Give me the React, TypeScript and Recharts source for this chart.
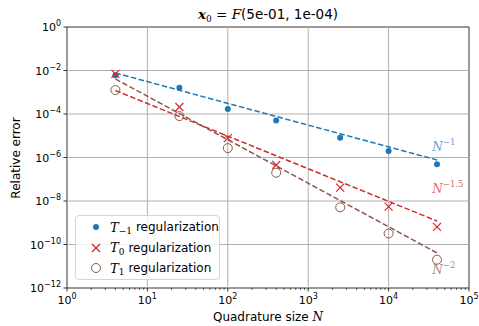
import React from 'react';
import { ComposedChart, Scatter, XAxis, YAxis, ReferenceLine, ReferenceArea, ReferenceDot } from 'recharts';

// quadrature sizes N
const sizes = [4, 25, 100, 400, 2500, 10000, 40000];

// relative errors per regularization
const errTm1 = [6.0e-3, 1.6e-3, 1.7e-4, 5.0e-5, 8.0e-6, 2.0e-6, 4.9e-7];
const errT0 = [7.0e-3, 2.1e-4, 7.8e-6, 4.5e-7, 4.1e-8, 5.5e-9, 6.5e-10];
const errT1 = [1.26e-3, 8.0e-5, 2.7e-6, 2.0e-7, 5.1e-9, 3.2e-10, 2.0e-11];

// fitted power-law lines, endpoints at N = 4 and N = 40000
const fitN = [4, 40000];
const fitTm1 = [7.7e-3, 7.7e-7];
const fitT0 = [1.2e-3, 1.2e-9];
const fitT1 = [4.1e-3, 4.1e-11];

const xMajor = [1, 10, 100, 1000, 10000, 100000];
const xMinor = [1, 10, 100, 1000, 10000].flatMap(d => [2, 3, 4, 5, 6, 7, 8, 9].map(m => m * d));
const yMajor = [1, 1e-2, 1e-4, 1e-6, 1e-8, 1e-10, 1e-12];

const BLUE = '#1f77b4';
const RED = '#d62728';
const BROWN = '#8c564b';
const FONT = '"DejaVu Sans", sans-serif';
const MATH = '"DejaVu Serif", serif';

const pts = (xs: number[], ys: number[]) => xs.map((x, i) => ({ x, y: ys[i] }));

const Dot = (p: any) => <circle cx={p.cx} cy={p.cy} r={3} fill={BLUE} />;
const Cross = (p: any) => (
  <g stroke={RED} strokeWidth={1.2}>
    <line x1={p.cx - 4} y1={p.cy - 4} x2={p.cx + 4} y2={p.cy + 4} />
    <line x1={p.cx - 4} y1={p.cy + 4} x2={p.cx + 4} y2={p.cy - 4} />
  </g>
);
const Ring = (p: any) => <circle cx={p.cx} cy={p.cy} r={4.5} fill="none" stroke={BROWN} strokeWidth={1} />;
const None = () => <g />;

const exponent = (v: number) => Math.round(Math.log10(v));
const fmtExp = (e: number) => (e < 0 ? '\u2212' + Math.abs(e) : String(e));

const XTick = (props: any) => {
  const { x, y, payload } = props;
  const v = payload.value;
  const e = exponent(v);
  const major = Math.abs(Math.log10(v) - e) < 1e-9;
  return (
    <g>
      <line x1={x} x2={x} y1={y} y2={y + (major ? 3.5 : 2)} stroke="#000" strokeWidth={major ? 0.8 : 0.6} />
      {major && (
        <text x={x} y={y + 16} textAnchor="middle" fontSize={11} fontFamily={FONT} fill="#000">
          10<tspan dy={-5} fontSize={8}>{fmtExp(e)}</tspan>
        </text>
      )}
    </g>
  );
};

const YTick = (props: any) => {
  const { x, y, payload } = props;
  const e = exponent(payload.value);
  return (
    <g>
      <line x1={x} x2={x - 3.5} y1={y} y2={y} stroke="#000" strokeWidth={0.8} />
      <text x={x - 6} y={y + 4} textAnchor="end" fontSize={11} fontFamily={FONT} fill="#000">
        10<tspan dy={-5} fontSize={8}>{fmtExp(e)}</tspan>
      </text>
    </g>
  );
};

const slopeLabel = (color: string, exp: string) => (p: any) => (
  <text x={p.cx} y={p.cy} fontFamily={MATH} fontStyle="italic" fontSize={12} fill={color} opacity={0.7}>
    N<tspan dy={-6} fontSize={8.5} fontStyle="normal">{exp}</tspan>
  </text>
);

const LegendRow = ({ marker, sub }: { marker: React.ReactNode; sub: string }) => (
  <div style={{ display: 'flex', alignItems: 'center', height: 20.5 }}>
    <svg width={16} height={12} style={{ marginLeft: 14, marginRight: 4 }}>{marker}</svg>
    <span style={{ fontFamily: MATH, fontStyle: 'italic', fontSize: 13 }}>T</span>
    <span style={{ fontFamily: MATH, fontSize: 9, position: 'relative', top: 4, marginRight: 4 }}>{sub}</span>
    <span>regularization</span>
  </div>
);

export default function App() {
  return (
    <div style={{ position: 'absolute', left: 0, top: 0, width: 479, height: 326, background: '#fff', fontFamily: FONT, fontSize: 12 }}>
      <div style={{ position: 'absolute', left: 67, width: 402, top: 6, textAlign: 'center', fontSize: 13.5 }}>
        <span style={{ fontFamily: MATH, fontStyle: 'italic', fontWeight: 'bold' }}>x</span>
        <span style={{ fontFamily: MATH, fontSize: 9, position: 'relative', top: 3 }}>0</span>
        <span style={{ fontFamily: MATH }}> = </span>
        <span style={{ fontFamily: MATH, fontStyle: 'italic' }}>F</span>
        <span>(5e-01, 1e-04)</span>
      </div>
      <div style={{ position: 'absolute', left: 67, width: 402, top: 310, textAlign: 'center', fontSize: 12 }}>
        Quadrature size <span style={{ fontFamily: MATH, fontStyle: 'italic' }}>N</span>
      </div>
      <div style={{ position: 'absolute', left: 16, top: 158, transform: 'translate(-50%, -50%) rotate(-90deg)', whiteSpace: 'nowrap', fontSize: 12 }}>
        Relative error
      </div>
      <ComposedChart width={479} height={326} margin={{ top: 27, right: 10, bottom: 0, left: 0 }}>
        <XAxis dataKey="x" type="number" scale="log" domain={[1, 100000]} ticks={[...xMajor, ...xMinor]}
          allowDataOverflow axisLine={false} tickLine={false} tickSize={0} tickMargin={0} height={38} tick={<XTick />} interval={0} />
        <YAxis dataKey="y" type="number" scale="log" domain={[1e-12, 1]} ticks={yMajor}
          allowDataOverflow axisLine={false} tickLine={false} tickSize={0} tickMargin={0} width={67} tick={<YTick />} interval={0} />
        {xMajor.slice(1, -1).map(v => (
          <ReferenceLine key={'gx' + v} x={v} stroke="#b0b0b0" strokeWidth={1} />
        ))}
        {yMajor.slice(1, -1).map(v => (
          <ReferenceLine key={'gy' + v} y={v} stroke="#b0b0b0" strokeWidth={1} />
        ))}
        <Scatter data={pts(fitN, fitTm1)} line={{ stroke: BLUE, strokeWidth: 1.5, strokeDasharray: '5.5 2.5' }} shape={None} isAnimationActive={false} />
        <Scatter data={pts(fitN, fitT0)} line={{ stroke: RED, strokeWidth: 1.5, strokeDasharray: '5.5 2.5' }} shape={None} isAnimationActive={false} />
        <Scatter data={pts(fitN, fitT1)} line={{ stroke: BROWN, strokeWidth: 1.5, strokeDasharray: '5.5 2.5' }} shape={None} isAnimationActive={false} />
        <Scatter data={pts(sizes, errTm1)} shape={Dot} isAnimationActive={false} />
        <Scatter data={pts(sizes, errT0)} shape={Cross} isAnimationActive={false} />
        <Scatter data={pts(sizes, errT1)} shape={Ring} isAnimationActive={false} />
        <ReferenceDot x={35000} y={2.0e-6} shape={slopeLabel(BLUE, '\u22121')} />
        <ReferenceDot x={35000} y={2.3e-8} shape={slopeLabel(RED, '\u22121.5')} />
        <ReferenceDot x={35000} y={4.3e-12} shape={slopeLabel(BROWN, '\u22122')} />
        <ReferenceArea x1={1} x2={100000} y1={1e-12} y2={1} fill="none" stroke="#000" strokeWidth={0.8} />
      </ComposedChart>
      <div style={{ position: 'absolute', left: 75, top: 215, width: 145, height: 65, boxSizing: 'border-box', border: '1px solid #d5d5d5', borderRadius: 4, background: 'rgba(255,255,255,0.8)', paddingTop: 1, fontSize: 12 }}>
        <LegendRow marker={<circle cx={6} cy={6} r={3} fill={BLUE} />} sub={'\u22121'} />
        <LegendRow marker={<g stroke={RED} strokeWidth={1.2}><line x1={2} y1={2} x2={10} y2={10} /><line x1={2} y1={10} x2={10} y2={2} /></g>} sub="0" />
        <LegendRow marker={<circle cx={6} cy={6} r={4.5} fill="none" stroke={BROWN} strokeWidth={1} />} sub="1" />
      </div>
    </div>
  );
}
